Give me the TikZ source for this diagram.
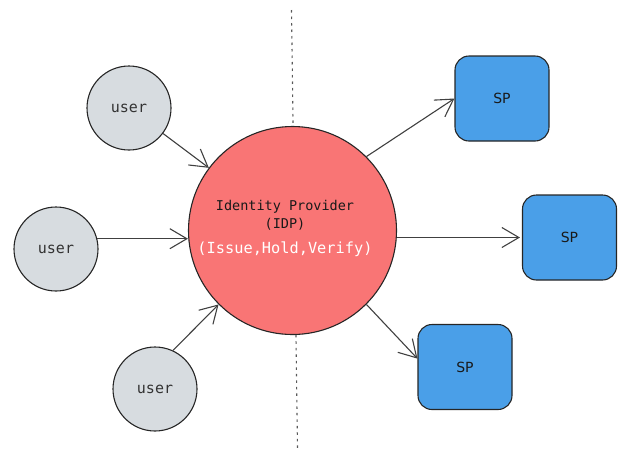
\documentclass[tikz,border=0pt]{standalone}
\usepackage{fontspec}
\setmainfont{DejaVu Sans}
\newfontfamily\codefont{DejaVu Sans Mono}
\usetikzlibrary{arrows.meta,calc}

\definecolor{idpred}{RGB}{249,117,117}
\definecolor{usergray}{RGB}{215,220,224}
\definecolor{spblue}{RGB}{74,159,232}

\tikzset{
  user/.style={circle,draw=black!85,line width=1.1pt,fill=usergray,
    minimum size=84pt,inner sep=0pt,text=black!80,
    font=\codefont\fontsize{15}{18}\selectfont},
  sp/.style={rectangle,rounded corners=14pt,draw=black!85,line width=1.1pt,
    fill=spblue,minimum width=94pt,minimum height=85pt,text=black!90,
    font=\fontsize{14}{16}\selectfont},
  flow/.style={-{Straight Barb[length=17pt,width=20pt]},line width=1.1pt,draw=black!75},
}

\begin{document}
\begin{tikzpicture}[x=1pt,y=-1pt]
  \useasboundingbox (0,0) rectangle (618,448);

  % 中间的虚线分隔
  \draw[black!65,line width=1.1pt,dash pattern=on 2.5pt off 4pt] (291.5,10) -- (297.5,448);

  % IDP 圆和文字
  \node[circle,draw=black!85,line width=1.1pt,fill=idpred,minimum size=208pt,inner sep=0pt] (idp) at (292.5,230.5) {};
  \node[align=center,text=black!90,font=\codefont\fontsize{13.5}{18}\selectfont] (idptext) at (285,228)
       {Identity Provider\\(IDP)\\[7pt]{\fontsize{15.3}{18}\selectfont\color{white}(Issue,Hold,Verify)}};

  % 左边三个 user
  \node[user] (u1) at (129,108) {user};
  \node[user] (u2) at (56,249)  {user};
  \node[user] (u3) at (155,389) {user};

  % 右边三个 SP
  \node[sp] (sp1) at (502,98.5)  {SP};
  \node[sp] (sp2) at (569.5,237.5) {SP};
  \node[sp] (sp3) at (465,367)   {SP};

  % user 指向 IDP
  \draw[flow] (u1) -- (idp);
  \draw[flow] (u2.14) -- (u2.14 -| idp.west);
  \draw[flow] (u3.65) -- (idp.225);

  % IDP 指向 SP
  \draw[flow] (idp.45) -- (sp1.west);
  \draw[flow,shorten >=2pt] (sp2.west -| idp.east) -- (sp2.west);
  \draw[flow] (idp.-45) -- (sp3.170);
\end{tikzpicture}
\end{document}
